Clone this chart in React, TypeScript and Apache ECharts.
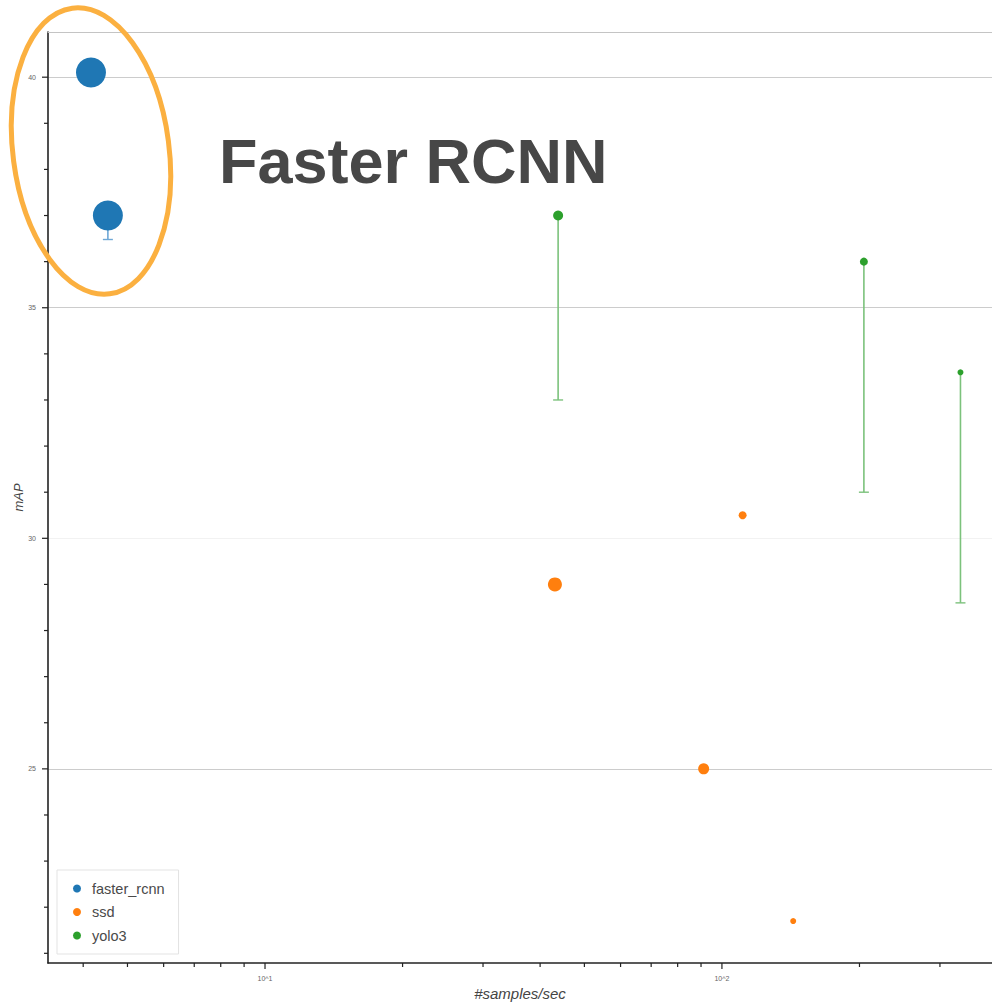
import React, { useEffect, useRef } from "react";
import * as echarts from "echarts";

// ---- data ----
const frcnnX = [4.16, 4.53];
const frcnnY = [40.1, 37.0];
const frcnnLow = [40.1, 36.48];
const frcnnSize = [30, 30];

const ssdX = [43.1, 111, 91.2, 143.2];
const ssdY = [29.0, 30.5, 25.0, 21.7];
const ssdSize = [14, 8, 11, 6];

const yoloX = [43.8, 204.5, 332.7];
const yoloY = [37.0, 36.0, 33.6];
const yoloLow = [33.0, 31.0, 28.6];
const yoloSize = [10, 8, 6];

const xMajorTicks = [10, 100];
const xMinorTicks = [4, 5, 6, 7, 8, 9, 20, 30, 40, 50, 60, 70, 80, 90, 200, 300];
const yMajorTicks = [25, 30, 35, 40];
const yMinorTicks = [21, 22, 23, 24, 26, 27, 28, 29, 31, 32, 33, 34, 36, 37, 38, 39];

const X_MIN = 3.35;
const X_MAX = 390;
const Y_MIN = 20.79;
const Y_MAX = 40.98;

const BLUE = "#1f77b4";
const ORANGE = "#ff7f0e";
const GREEN = "#2ca02c";
const FONT = '"Liberation Sans", Arial, Helvetica, sans-serif';

function tickSeries(axis: "x" | "y", values: number[], len: number) {
  return {
    type: "custom",
    silent: true,
    z: 6,
    data: values.map((v) => (axis === "x" ? [v, Y_MIN] : [X_MIN, v])),
    encode: { x: 0, y: 1 },
    renderItem: (_params: any, api: any) => {
      const p = api.coord([api.value(0), api.value(1)]);
      const shape =
        axis === "x"
          ? { x1: p[0], y1: p[1], x2: p[0], y2: p[1] + len }
          : { x1: p[0] - len, y1: p[1], x2: p[0], y2: p[1] };
      return { type: "line", shape, style: { stroke: "#222", lineWidth: 1.2 } };
    },
  };
}

function errorSeries(xs: number[], lows: number[], highs: number[], color: string) {
  return {
    type: "custom",
    silent: true,
    z: 2,
    data: xs.map((x, i) => [x, lows[i], highs[i]]),
    encode: { x: 0, y: [1, 2] },
    renderItem: (_params: any, api: any) => {
      const x = api.value(0);
      const pLo = api.coord([x, api.value(1)]);
      const pHi = api.coord([x, api.value(2)]);
      return {
        type: "group",
        children: [
          {
            type: "line",
            shape: { x1: pHi[0], y1: pHi[1], x2: pLo[0], y2: pLo[1] },
            style: { stroke: color, lineWidth: 1.6 },
          },
          {
            type: "line",
            shape: { x1: pLo[0] - 5, y1: pLo[1], x2: pLo[0] + 5, y2: pLo[1] },
            style: { stroke: color, lineWidth: 1.4 },
          },
        ],
      };
    },
  };
}

function scatter(name: string, xs: number[], ys: number[], sizes: number[], color: string) {
  return {
    name,
    type: "scatter",
    z: 4,
    data: xs.map((x, i) => ({ value: [x, ys[i]], symbolSize: sizes[i] })),
    itemStyle: { color, opacity: 1 },
  };
}

export default function App() {
  const ref = useRef<HTMLDivElement>(null);

  useEffect(() => {
    if (!ref.current) return;
    const chart = echarts.init(ref.current, undefined, { renderer: "svg" });
    const logLabel = (v: number) => {
      const e = Math.log10(v);
      return Math.abs(e - Math.round(e)) < 1e-6 ? `10^${Math.round(e)}` : "";
    };
    chart.setOption({
      animation: false,
      backgroundColor: "#ffffff",
      textStyle: { fontFamily: FONT },
      grid: {
        left: 48,
        top: 32,
        right: 0,
        bottom: 42,
        containLabel: false,
        outerBoundsMode: "none",
      },
      xAxis: [
        {
          type: "log",
          logBase: 10,
          min: X_MIN,
          max: X_MAX,
          axisLine: { show: true, lineStyle: { color: "#222", width: 1.6 } },
          axisTick: { show: false },
          axisLabel: {
            formatter: logLabel,
            fontSize: 7,
            color: "#666",
            margin: 12,
            showMinLabel: false,
            showMaxLabel: false,
          },
          splitLine: { show: false },
          name: "#samples/sec",
          nameLocation: "middle",
          nameGap: 23,
          nameMoveOverlap: false,
          nameTextStyle: { fontStyle: "italic", fontSize: 15, color: "#444" },
        },
        {
          type: "log",
          logBase: 10,
          position: "top",
          min: X_MIN,
          max: X_MAX,
          axisLine: { show: true, onZero: false, lineStyle: { color: "#c4c4c4", width: 1 } },
          axisTick: { show: false },
          axisLabel: { show: false },
          splitLine: { show: false },
        },
      ],
      yAxis: {
        type: "value",
        min: Y_MIN,
        max: Y_MAX,
        splitNumber: 4,
        axisLine: { show: true, lineStyle: { color: "#222", width: 1.6 } },
        axisTick: { show: false },
        axisLabel: {
          formatter: (v: number) => (Math.abs(v / 5 - Math.round(v / 5)) < 1e-6 ? String(v) : ""),
          fontSize: 7,
          color: "#666",
          margin: 12,
        },
        splitLine: {
          show: true,
          showMinLine: false,
          showMaxLine: false,
          lineStyle: { color: ["#cccccc", "#f2f2f2", "#cccccc", "#cccccc"], width: 1 },
        },
        name: "mAP",
        nameLocation: "middle",
        nameGap: 23,
        nameMoveOverlap: false,
        nameTextStyle: { fontStyle: "italic", fontSize: 13, color: "#444" },
      },
      legend: {
        data: [
          { name: "faster_rcnn", icon: "circle" },
          { name: "ssd", icon: "circle" },
          { name: "yolo3", icon: "circle" },
        ],
        orient: "vertical",
        left: 57,
        top: 870,
        padding: [11, 14, 11, 16],
        itemWidth: 8,
        itemHeight: 8,
        itemGap: 8.5,
        borderColor: "#e3e3e3",
        borderWidth: 1,
        backgroundColor: "#ffffff",
        textStyle: { fontSize: 14.5, color: "#4a4a4a", fontFamily: FONT, padding: [0, 0, 0, 6] },
      },
      graphic: [
        {
          type: "ellipse",
          x: 91,
          y: 151,
          rotation: 0.13,
          shape: { cx: 0, cy: 0, rx: 78, ry: 144 },
          style: { fill: "none", stroke: "#fbb040", lineWidth: 5 },
          z: 100,
        },
        {
          type: "text",
          x: 219,
          y: 161,
          style: {
            text: "Faster RCNN",
            fontSize: 63,
            fontWeight: "bold",
            fontFamily: FONT,
            fill: "#474747",
            verticalAlign: "middle",
          },
          z: 100,
        },
      ],
      series: [
        tickSeries("x", xMajorTicks, 6),
        tickSeries("x", xMinorTicks, 4),
        tickSeries("y", yMajorTicks, 6),
        tickSeries("y", yMinorTicks, 4),
        errorSeries(frcnnX, frcnnLow, frcnnY, "#6fa8d6"),
        errorSeries(yoloX, yoloLow, yoloY, "#7cc27c"),
        scatter("faster_rcnn", frcnnX, frcnnY, frcnnSize, BLUE),
        scatter("ssd", ssdX, ssdY, ssdSize, ORANGE),
        scatter("yolo3", yoloX, yoloY, yoloSize, GREEN),
      ],
    });
    return () => chart.dispose();
  }, []);

  return (
    <div
      ref={ref}
      style={{ position: "absolute", left: 0, top: 0, width: 992, height: 1005 }}
    />
  );
}
